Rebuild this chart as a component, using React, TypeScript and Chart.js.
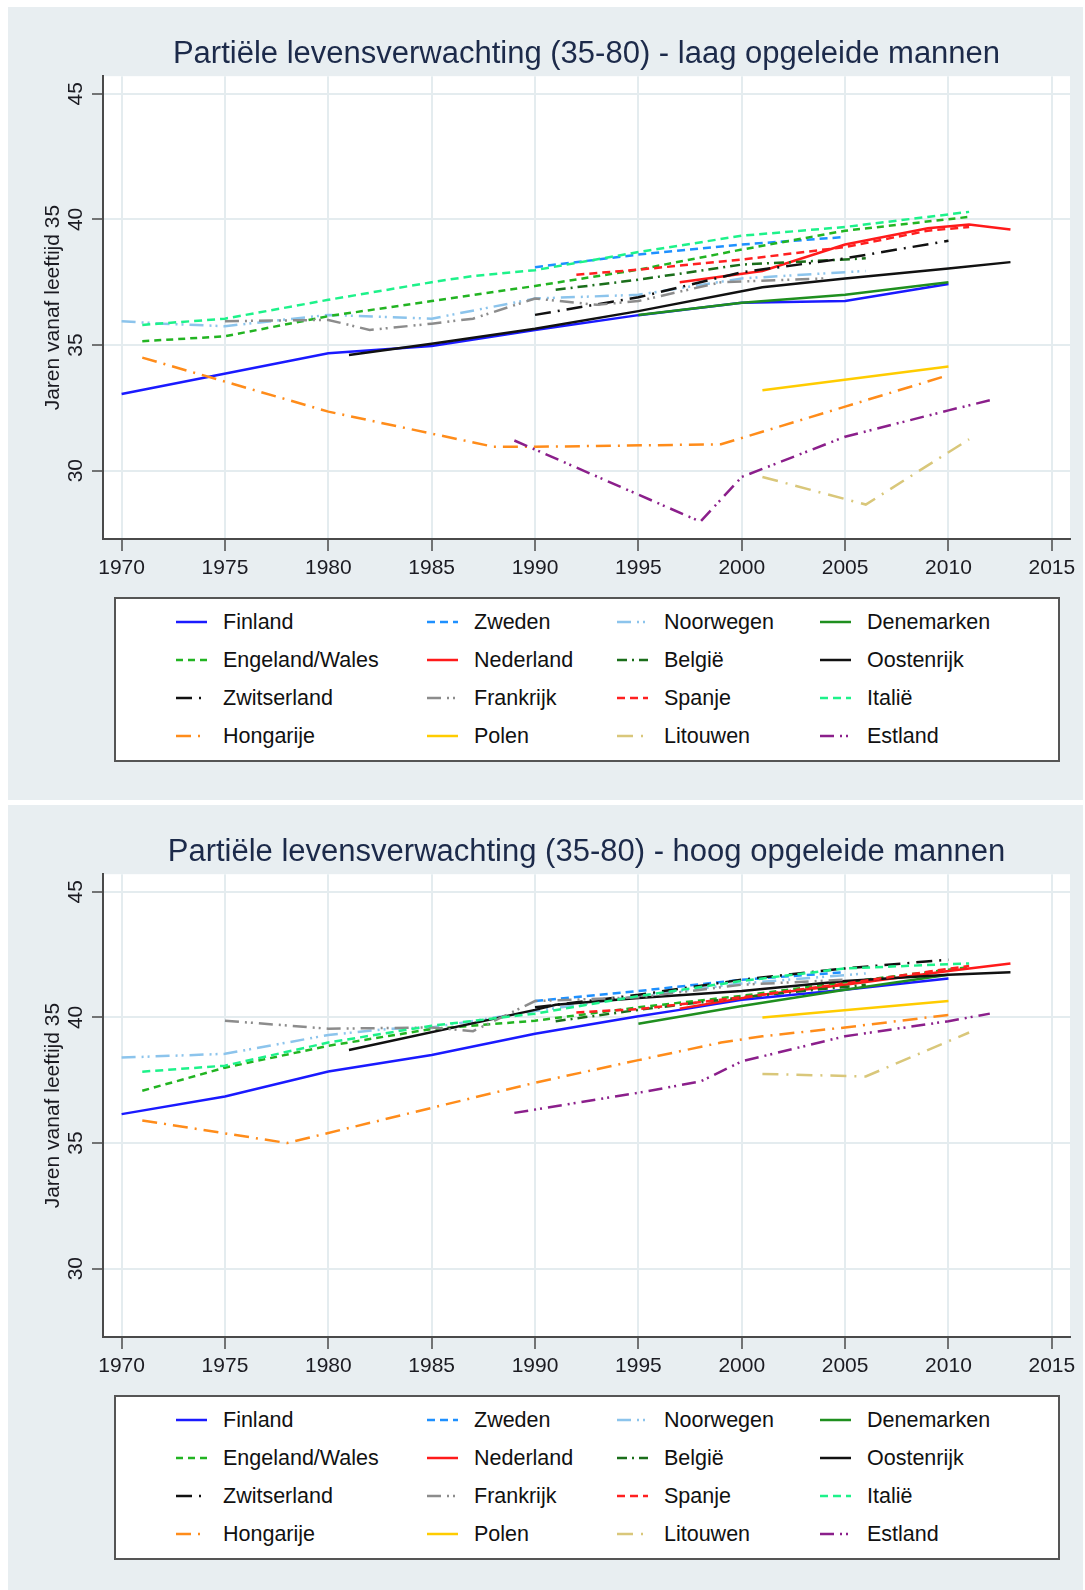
import { useEffect, useRef } from "react";
import { Chart, registerables } from "chart.js";

Chart.register(...registerables);

// ---------- data ----------
const COUNTRIES = [
  "Finland", "Zweden", "Noorwegen", "Denemarken",
  "Engeland/Wales", "Nederland", "België", "Oostenrijk",
  "Zwitserland", "Frankrijk", "Spanje", "Italië",
  "Hongarije", "Polen", "Litouwen", "Estland",
];
const YEAR_TICKS = [1970, 1975, 1980, 1985, 1990, 1995, 2000, 2005, 2010, 2015];
const Y_TICKS = [30, 35, 40, 45];

type Pt = [number, number];

// laag opgeleide mannen
const LAAG_FINLAND: Pt[] = [[1970, 33.05], [1980, 34.67], [1985, 34.96], [1990, 35.6], [1995, 36.19], [2000, 36.68], [2005, 36.75], [2010, 37.43]];
const LAAG_ZWEDEN: Pt[] = [[1990, 38.1], [1995, 38.6], [2000, 39.0], [2005, 39.3]];
const LAAG_NOORWEGEN: Pt[] = [[1970, 35.95], [1972, 35.85], [1975, 35.75], [1980, 36.2], [1985, 36.05], [1990, 36.85], [1995, 37.0], [2000, 37.65], [2006, 37.95]];
const LAAG_DENEMARKEN: Pt[] = [[1995, 36.2], [2000, 36.68], [2005, 37.0], [2010, 37.5]];
const LAAG_ENGELAND: Pt[] = [[1971, 35.15], [1975, 35.35], [1980, 36.15], [1985, 36.75], [1990, 37.35], [1995, 38.0], [2000, 38.8], [2005, 39.55], [2011, 40.1]];
const LAAG_NEDERLAND: Pt[] = [[1997, 37.5], [2001, 37.95], [2005, 39.0], [2009, 39.65], [2011, 39.8], [2013, 39.6]];
const LAAG_BELGIE: Pt[] = [[1991, 37.2], [1995, 37.6], [2000, 38.2], [2006, 38.45]];
const LAAG_OOSTENRIJK: Pt[] = [[1981, 34.6], [1985, 35.05], [1990, 35.65], [1995, 36.35], [2001, 37.3], [2005, 37.65], [2010, 38.05], [2013, 38.3]];
const LAAG_ZWITSERLAND: Pt[] = [[1990, 36.2], [1995, 36.9], [2000, 37.9], [2005, 38.45], [2010, 39.15]];
const LAAG_FRANKRIJK: Pt[] = [[1975, 35.95], [1980, 36.0], [1982, 35.6], [1985, 35.85], [1987, 36.05], [1990, 36.85], [1993, 36.6], [1995, 36.75], [1999, 37.5], [2004, 37.65]];
const LAAG_SPANJE: Pt[] = [[1992, 37.8], [1995, 38.0], [2000, 38.4], [2005, 38.9], [2009, 39.55], [2011, 39.7]];
const LAAG_ITALIE: Pt[] = [[1971, 35.8], [1975, 36.05], [1980, 36.8], [1985, 37.5], [1987, 37.75], [1990, 37.98], [1995, 38.7], [2000, 39.35], [2005, 39.7], [2011, 40.3]];
const LAAG_HONGARIJE: Pt[] = [[1971, 34.5], [1980, 32.35], [1988, 30.95], [1990, 30.95], [1999, 31.05], [2005, 32.55], [2010, 33.8]];
const LAAG_POLEN: Pt[] = [[2001, 33.2], [2010, 34.15]];
const LAAG_LITOUWEN: Pt[] = [[2001, 29.75], [2006, 28.65], [2011, 31.25]];
const LAAG_ESTLAND: Pt[] = [[1989, 31.2], [1998, 27.97], [2000, 29.75], [2005, 31.35], [2010, 32.4], [2012, 32.8]];

// hoog opgeleide mannen
const HOOG_FINLAND: Pt[] = [[1970, 36.15], [1975, 36.85], [1980, 37.85], [1985, 38.5], [1990, 39.35], [1995, 40.05], [1997, 40.3], [2000, 40.7], [2005, 41.1], [2010, 41.55]];
const HOOG_ZWEDEN: Pt[] = [[1990, 40.65], [1995, 41.05], [2000, 41.5], [2005, 41.8]];
const HOOG_NOORWEGEN: Pt[] = [[1970, 38.4], [1975, 38.55], [1980, 39.3], [1983, 39.55], [1985, 39.6], [1990, 40.25], [1995, 40.85], [2000, 41.35], [2006, 41.75]];
const HOOG_DENEMARKEN: Pt[] = [[1995, 39.75], [2000, 40.45], [2005, 41.1], [2010, 41.7]];
const HOOG_ENGELAND: Pt[] = [[1971, 37.08], [1975, 38.0], [1980, 38.87], [1985, 39.54], [1990, 39.87], [1995, 40.4], [2000, 40.86], [2005, 41.4], [2011, 42.0]];
const HOOG_NEDERLAND: Pt[] = [[1997, 40.35], [2001, 40.9], [2005, 41.3], [2010, 41.85], [2013, 42.15]];
const HOOG_BELGIE: Pt[] = [[1991, 39.85], [1995, 40.3], [2000, 40.8], [2006, 41.3]];
const HOOG_OOSTENRIJK: Pt[] = [[1981, 38.7], [1990, 40.3], [1991, 40.5], [1995, 40.77], [2000, 41.05], [2005, 41.45], [2010, 41.7], [2013, 41.8]];
const HOOG_ZWITSERLAND: Pt[] = [[1990, 40.4], [1995, 40.9], [2000, 41.5], [2005, 41.95], [2010, 42.3]];
const HOOG_FRANKRIJK: Pt[] = [[1975, 39.87], [1980, 39.55], [1985, 39.6], [1987, 39.45], [1990, 40.65], [1995, 40.8], [2000, 41.3], [2005, 41.5]];
const HOOG_SPANJE: Pt[] = [[1992, 40.2], [1995, 40.33], [2000, 40.8], [2005, 41.35], [2011, 42.05]];
const HOOG_ITALIE: Pt[] = [[1971, 37.84], [1975, 38.08], [1980, 39.0], [1985, 39.67], [1990, 40.15], [1995, 40.85], [2000, 41.45], [2005, 41.95], [2011, 42.15]];
const HOOG_HONGARIJE: Pt[] = [[1971, 35.9], [1978, 35.0], [1980, 35.4], [1985, 36.4], [1990, 37.4], [1995, 38.3], [1999, 39.0], [2001, 39.25], [2005, 39.6], [2010, 40.1]];
const HOOG_POLEN: Pt[] = [[2001, 40.0], [2010, 40.65]];
const HOOG_LITOUWEN: Pt[] = [[2001, 37.75], [2006, 37.65], [2011, 39.4]];
const HOOG_ESTLAND: Pt[] = [[1989, 36.2], [1995, 37.0], [1998, 37.45], [2000, 38.25], [2005, 39.25], [2010, 39.85], [2012, 40.15]];

const LAAG_SERIES = [
  LAAG_FINLAND, LAAG_ZWEDEN, LAAG_NOORWEGEN, LAAG_DENEMARKEN,
  LAAG_ENGELAND, LAAG_NEDERLAND, LAAG_BELGIE, LAAG_OOSTENRIJK,
  LAAG_ZWITSERLAND, LAAG_FRANKRIJK, LAAG_SPANJE, LAAG_ITALIE,
  LAAG_HONGARIJE, LAAG_POLEN, LAAG_LITOUWEN, LAAG_ESTLAND,
];
const HOOG_SERIES = [
  HOOG_FINLAND, HOOG_ZWEDEN, HOOG_NOORWEGEN, HOOG_DENEMARKEN,
  HOOG_ENGELAND, HOOG_NEDERLAND, HOOG_BELGIE, HOOG_OOSTENRIJK,
  HOOG_ZWITSERLAND, HOOG_FRANKRIJK, HOOG_SPANJE, HOOG_ITALIE,
  HOOG_HONGARIJE, HOOG_POLEN, HOOG_LITOUWEN, HOOG_ESTLAND,
];

// ---------- styles ----------
const COLORS = [
  "#1a1aff", "#1e90ff", "#8cc4ec", "#1f8f1f",
  "#22b422", "#ff1a1a", "#1a6e1a", "#111111",
  "#111111", "#8c8c8c", "#ff2020", "#1df28a",
  "#ff8c1a", "#ffcc00", "#d9c77a", "#8b1f8b",
];
const DASHES: number[][] = [
  [], [8, 5], [14, 6, 2, 4, 2, 6], [],
  [7, 5], [], [10, 5, 2, 5], [],
  [16, 7, 2, 7], [14, 6, 2, 4, 2, 6], [8, 5], [8, 5],
  [15, 7, 2, 7], [], [16, 8, 2, 8], [14, 6, 2, 4, 2, 6],
];

const FONT = '"Liberation Sans", Arial, sans-serif';
const TEXT = "#1b1b22";
const PANEL_BG = "#e8eef1";
const GRID = "#e4ecef";
const AXIS = "#4a4a4a";

const CANVAS_W = 1075;
const CANVAS_H = 580;

const decorPlugin = {
  id: "decor",
  beforeDraw(chart: any) {
    const { ctx, chartArea: a } = chart;
    ctx.save();
    ctx.fillStyle = "#ffffff";
    ctx.fillRect(a.left, a.top, a.right - a.left, a.bottom - a.top);
    ctx.restore();
  },
  afterDraw(chart: any) {
    const { ctx, chartArea: a, scales } = chart;
    const ys = scales.y;
    ctx.save();
    ctx.fillStyle = TEXT;
    ctx.font = `21px ${FONT}`;
    ctx.textAlign = "center";
    ctx.textBaseline = "middle";
    for (const v of Y_TICKS) {
      const py = ys.getPixelForValue(v);
      ctx.save();
      ctx.translate(68, py);
      ctx.rotate(-Math.PI / 2);
      ctx.fillText(String(v), 0, 0);
      ctx.restore();
    }
    ctx.save();
    ctx.translate(45, (a.top + a.bottom) / 2);
    ctx.rotate(-Math.PI / 2);
    ctx.fillText("Jaren vanaf leeftijd 35", 0, 0);
    ctx.restore();
    ctx.restore();
  },
};

function Panel({ title, series, top, height }: { title: string; series: Pt[][]; top: number; height: number }) {
  const ref = useRef<HTMLCanvasElement | null>(null);

  useEffect(() => {
    if (!ref.current) return;
    const datasets = series.map((pts, i) => ({
      label: COUNTRIES[i],
      data: pts.map(([x, y]) => ({ x, y })),
      borderColor: COLORS[i],
      backgroundColor: COLORS[i],
      borderWidth: 2.5,
      borderDash: DASHES[i],
      pointRadius: 0,
      fill: false,
      tension: 0,
      order: series.length - i,
    }));
    const chart = new Chart(ref.current, {
      type: "line",
      data: { datasets },
      options: {
        animation: false,
        responsive: false,
        devicePixelRatio: 1,
        layout: { padding: { left: 0, right: 13, top: 0, bottom: 0 } },
        plugins: {
          legend: { display: false },
          tooltip: { enabled: false },
          title: {
            display: true,
            text: title,
            fullSize: false,
            color: "#1c2a4a",
            font: { family: FONT, size: 31, weight: "normal", lineHeight: 1.2 },
            padding: { top: 29, bottom: 3 },
          },
        },
        scales: {
          x: {
            type: "linear",
            position: "bottom",
            min: 1969.1,
            max: 2015.88,
            afterBuildTicks: (s: any) => {
              s.ticks = YEAR_TICKS.map((v) => ({ value: v }));
            },
            afterFit: (s: any) => {
              s.height = 48;
            },
            ticks: {
              autoSkip: false,
              maxRotation: 0,
              minRotation: 0,
              padding: 5,
              color: TEXT,
              font: { family: FONT, size: 21 },
              callback: (v: any) => String(v),
            },
            grid: {
              color: GRID,
              lineWidth: 2,
              drawTicks: true,
              tickLength: 12,
              tickColor: AXIS,
              tickWidth: 1.5,
            },
            border: { display: true, color: AXIS, width: 2 },
          },
          y: {
            type: "linear",
            position: "left",
            min: 27.28,
            max: 45.7,
            afterBuildTicks: (s: any) => {
              s.ticks = Y_TICKS.map((v) => ({ value: v }));
            },
            afterFit: (s: any) => {
              s.width = 95;
            },
            ticks: { display: false },
            grid: {
              color: GRID,
              lineWidth: 2,
              drawTicks: true,
              tickLength: 11,
              tickColor: AXIS,
              tickWidth: 1.5,
            },
            border: { display: true, color: AXIS, width: 2 },
          },
        },
      },
      plugins: [decorPlugin],
    } as any);
    return () => chart.destroy();
  }, [title, series]);

  const rowY = [25, 63, 101, 139];
  const colX = [62, 313, 503, 706];

  return (
    <div
      style={{
        position: "absolute",
        left: 8,
        top,
        width: 1075,
        height,
        background: PANEL_BG,
        overflow: "hidden",
      }}
    >
      <canvas
        ref={ref}
        width={CANVAS_W}
        height={CANVAS_H}
        style={{ position: "absolute", left: 0, top: 0, width: CANVAS_W, height: CANVAS_H }}
      />
      <div
        style={{
          position: "absolute",
          left: 106,
          top: 590,
          width: 946,
          height: 165,
          boxSizing: "border-box",
          border: "2px solid #555",
          background: "#ffffff",
        }}
      >
        {COUNTRIES.map((name, i) => {
          const r = Math.floor(i / 4);
          const c = i % 4;
          return (
            <div
              key={name}
              style={{
                position: "absolute",
                left: colX[c] - 2,
                top: rowY[r] - 2 - 15,
                height: 30,
                display: "flex",
                alignItems: "center",
                whiteSpace: "nowrap",
              }}
            >
              <svg width={31} height={6} style={{ display: "block" }}>
                <line
                  x1={0}
                  y1={3}
                  x2={31}
                  y2={3}
                  stroke={COLORS[i]}
                  strokeWidth={2.5}
                  strokeDasharray={DASHES[i].length ? DASHES[i].join(" ") : undefined}
                />
              </svg>
              <span
                style={{
                  marginLeft: 16,
                  fontFamily: FONT,
                  fontSize: 21.5,
                  color: "#111",
                  lineHeight: "30px",
                }}
              >
                {name}
              </span>
            </div>
          );
        })}
      </div>
    </div>
  );
}

export default function App() {
  return (
    <div>
      <Panel title="Partiële levensverwachting (35-80) - laag opgeleide mannen" series={LAAG_SERIES} top={7} height={793} />
      <Panel title="Partiële levensverwachting (35-80) - hoog opgeleide mannen" series={HOOG_SERIES} top={805} height={785} />
    </div>
  );
}
